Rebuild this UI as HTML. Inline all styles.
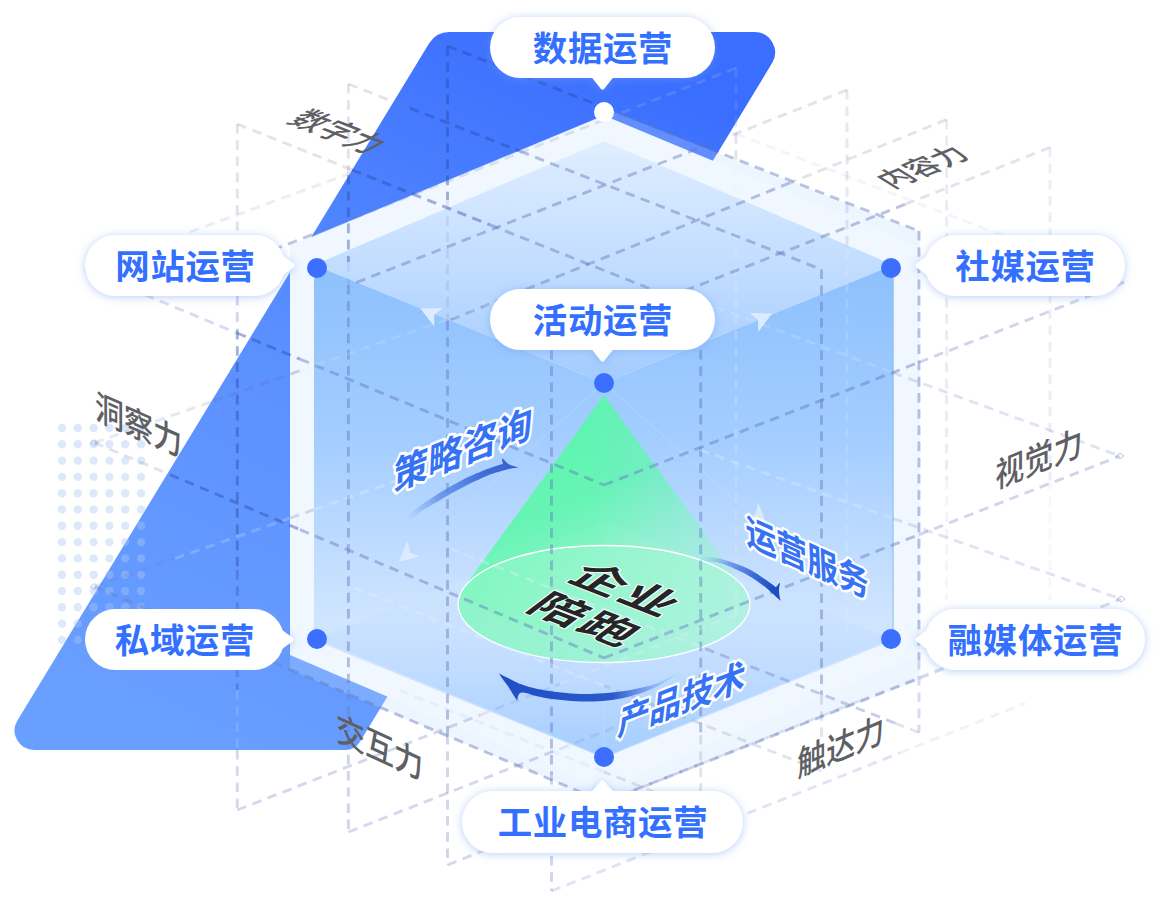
<!DOCTYPE html>
<html lang="zh-CN"><head><meta charset="utf-8"><title>企业陪跑</title>
<style>
html,body{margin:0;padding:0;background:#fff;}
body{width:1162px;height:906px;overflow:hidden;font-family:"Liberation Sans","Noto Sans CJK SC",sans-serif;}
svg{display:block}
text{font-family:"Liberation Sans","Noto Sans CJK SC",sans-serif;}
.pill{font-weight:700;font-size:34.4px;letter-spacing:0.7px;fill:#3370ff;text-anchor:middle;}
.gray{font-weight:500;font-size:35px;fill:#5f5f66;}
.blue{font-weight:700;font-size:34px;fill:#3572f5;stroke:#fff;stroke-width:4.8px;paint-order:stroke fill;stroke-linejoin:round;}
.ctr{font-weight:700;font-size:50px;letter-spacing:3px;fill:#252528;stroke:#fff;stroke-opacity:0.85;stroke-width:3px;paint-order:stroke fill;stroke-linejoin:round;}
</style></head><body>
<svg width="1162" height="906" viewBox="0 0 1162 906">
<defs>
<linearGradient id="gBig" gradientUnits="userSpaceOnUse" x1="560" y1="30" x2="200" y2="750">
<stop offset="0" stop-color="#3a6eff"/><stop offset="0.5" stop-color="#5a8fff"/><stop offset="1" stop-color="#699fff"/></linearGradient>
<linearGradient id="gTop" gradientUnits="userSpaceOnUse" x1="0" y1="141" x2="0" y2="383">
<stop offset="0" stop-color="#e0eeff"/><stop offset="0.6" stop-color="#bddaff"/><stop offset="1" stop-color="#a3cbff"/></linearGradient>
<linearGradient id="gSide" gradientUnits="userSpaceOnUse" x1="0" y1="265" x2="0" y2="758">
<stop offset="0" stop-color="#8dc0fd"/><stop offset="0.35" stop-color="#a3cdff"/><stop offset="0.72" stop-color="#d0e5ff"/><stop offset="1" stop-color="#c6dfff"/></linearGradient>
<linearGradient id="gFloor" gradientUnits="userSpaceOnUse" x1="0" y1="521" x2="0" y2="757">
<stop offset="0" stop-color="#d8e9ff" stop-opacity="0.5"/><stop offset="0.5" stop-color="#c6dfff" stop-opacity="0.75"/><stop offset="1" stop-color="#a4cdff" stop-opacity="1"/></linearGradient>
<linearGradient id="gCone" gradientUnits="userSpaceOnUse" x1="575" y1="400" x2="680" y2="650">
<stop offset="0" stop-color="#5af5ad"/><stop offset="0.35" stop-color="#64f5b2"/><stop offset="0.65" stop-color="#8af6c6" stop-opacity="0.92"/><stop offset="1" stop-color="#aef3dc" stop-opacity="0.8"/></linearGradient>
<linearGradient id="gEll" gradientUnits="userSpaceOnUse" x1="470" y1="570" x2="740" y2="640">
<stop offset="0" stop-color="#84f7c1"/><stop offset="1" stop-color="#acf4dd"/></linearGradient>
<linearGradient id="gA1" gradientUnits="userSpaceOnUse" x1="409" y1="517" x2="515" y2="464">
<stop offset="0" stop-color="#6f9cf0" stop-opacity="0.05"/><stop offset="0.3" stop-color="#5a88e8" stop-opacity="0.75"/><stop offset="0.7" stop-color="#4270d8"/><stop offset="1" stop-color="#365fcc"/></linearGradient>
<linearGradient id="gA2" gradientUnits="userSpaceOnUse" x1="703" y1="557" x2="781" y2="598">
<stop offset="0" stop-color="#8fb2f2" stop-opacity="0.1"/><stop offset="0.3" stop-color="#6a94ea" stop-opacity="0.9"/><stop offset="0.6" stop-color="#3d6cd8"/><stop offset="0.85" stop-color="#1f4fc4"/><stop offset="1" stop-color="#1c4abf"/></linearGradient>
<linearGradient id="gA3" gradientUnits="userSpaceOnUse" x1="682" y1="680" x2="500" y2="680">
<stop offset="0" stop-color="#9dbcf5" stop-opacity="0.1"/><stop offset="0.2" stop-color="#6f97ea" stop-opacity="0.85"/><stop offset="0.38" stop-color="#2a59cc"/><stop offset="1" stop-color="#1f4fc6"/></linearGradient>
<linearGradient id="gMask" gradientUnits="userSpaceOnUse" x1="590" y1="0" x2="752" y2="0">
<stop offset="0" stop-color="#fff"/><stop offset="1" stop-color="#777"/></linearGradient>
<mask id="mCone" maskUnits="userSpaceOnUse" x="440" y="380" width="330" height="300"><rect x="440" y="380" width="330" height="300" fill="url(#gMask)"/></mask>
<filter id="sh" x="-20%" y="-40%" width="140%" height="180%"><feDropShadow dx="0" dy="1" stdDeviation="4" flood-color="#6d9df0" flood-opacity="0.5"/></filter>
</defs>

<path d="M429.0,43.5 A24,24 0 0 1 449.5,32.0 L754.6,32.0 A20.5,20.5 0 0 1 772.1,63.1 L360.0,741.8 A17,17 0 0 1 345.4,750.0 L34.1,750.0 A19.5,19.5 0 0 1 17.4,720.4 Z" fill="url(#gBig)"/>
<g fill="#a9c8f5" fill-opacity="0.4"><circle cx="62.0" cy="428.0" r="4.2"/><circle cx="62.0" cy="444.3" r="4.2"/><circle cx="62.0" cy="460.6" r="4.2"/><circle cx="62.0" cy="476.9" r="4.2"/><circle cx="62.0" cy="493.2" r="4.2"/><circle cx="62.0" cy="509.5" r="4.2"/><circle cx="62.0" cy="525.8" r="4.2"/><circle cx="62.0" cy="542.1" r="4.2"/><circle cx="62.0" cy="558.4" r="4.2"/><circle cx="62.0" cy="574.7" r="4.2"/><circle cx="62.0" cy="591.0" r="4.2"/><circle cx="62.0" cy="607.3" r="4.2"/><circle cx="62.0" cy="623.6" r="4.2"/><circle cx="62.0" cy="639.9" r="4.2"/><circle cx="77.8" cy="428.0" r="4.2"/><circle cx="77.8" cy="444.3" r="4.2"/><circle cx="77.8" cy="460.6" r="4.2"/><circle cx="77.8" cy="476.9" r="4.2"/><circle cx="77.8" cy="493.2" r="4.2"/><circle cx="77.8" cy="509.5" r="4.2"/><circle cx="77.8" cy="525.8" r="4.2"/><circle cx="77.8" cy="542.1" r="4.2"/><circle cx="77.8" cy="558.4" r="4.2"/><circle cx="77.8" cy="574.7" r="4.2"/><circle cx="77.8" cy="591.0" r="4.2"/><circle cx="77.8" cy="607.3" r="4.2"/><circle cx="77.8" cy="623.6" r="4.2"/><circle cx="77.8" cy="639.9" r="4.2"/><circle cx="93.6" cy="428.0" r="4.2"/><circle cx="93.6" cy="444.3" r="4.2"/><circle cx="93.6" cy="460.6" r="4.2"/><circle cx="93.6" cy="476.9" r="4.2"/><circle cx="93.6" cy="493.2" r="4.2"/><circle cx="93.6" cy="509.5" r="4.2"/><circle cx="93.6" cy="525.8" r="4.2"/><circle cx="93.6" cy="542.1" r="4.2"/><circle cx="93.6" cy="558.4" r="4.2"/><circle cx="93.6" cy="574.7" r="4.2"/><circle cx="93.6" cy="591.0" r="4.2"/><circle cx="93.6" cy="607.3" r="4.2"/><circle cx="93.6" cy="623.6" r="4.2"/><circle cx="93.6" cy="639.9" r="4.2"/><circle cx="109.4" cy="428.0" r="4.2"/><circle cx="109.4" cy="444.3" r="4.2"/><circle cx="109.4" cy="460.6" r="4.2"/><circle cx="109.4" cy="476.9" r="4.2"/><circle cx="109.4" cy="493.2" r="4.2"/><circle cx="109.4" cy="509.5" r="4.2"/><circle cx="109.4" cy="525.8" r="4.2"/><circle cx="109.4" cy="542.1" r="4.2"/><circle cx="109.4" cy="558.4" r="4.2"/><circle cx="109.4" cy="574.7" r="4.2"/><circle cx="109.4" cy="591.0" r="4.2"/><circle cx="109.4" cy="607.3" r="4.2"/><circle cx="109.4" cy="623.6" r="4.2"/><circle cx="109.4" cy="639.9" r="4.2"/><circle cx="125.2" cy="428.0" r="4.2"/><circle cx="125.2" cy="444.3" r="4.2"/><circle cx="125.2" cy="460.6" r="4.2"/><circle cx="125.2" cy="476.9" r="4.2"/><circle cx="125.2" cy="493.2" r="4.2"/><circle cx="125.2" cy="509.5" r="4.2"/><circle cx="125.2" cy="525.8" r="4.2"/><circle cx="125.2" cy="542.1" r="4.2"/><circle cx="125.2" cy="558.4" r="4.2"/><circle cx="125.2" cy="574.7" r="4.2"/><circle cx="125.2" cy="591.0" r="4.2"/><circle cx="125.2" cy="607.3" r="4.2"/><circle cx="125.2" cy="623.6" r="4.2"/><circle cx="125.2" cy="639.9" r="4.2"/><circle cx="141.0" cy="428.0" r="4.2"/><circle cx="141.0" cy="444.3" r="4.2"/><circle cx="141.0" cy="460.6" r="4.2"/><circle cx="141.0" cy="476.9" r="4.2"/><circle cx="141.0" cy="493.2" r="4.2"/><circle cx="141.0" cy="509.5" r="4.2"/><circle cx="141.0" cy="525.8" r="4.2"/><circle cx="141.0" cy="542.1" r="4.2"/><circle cx="141.0" cy="558.4" r="4.2"/><circle cx="141.0" cy="574.7" r="4.2"/><circle cx="141.0" cy="591.0" r="4.2"/><circle cx="141.0" cy="607.3" r="4.2"/><circle cx="141.0" cy="623.6" r="4.2"/><circle cx="141.0" cy="639.9" r="4.2"/></g>
<polygon points="604,115 604,108 919.5,232 919.5,679.5 604,802 290,670 290,245" fill="#bedcff" fill-opacity="0.28"/>
<polygon points="604,115.5 917.5,246 917.5,655 604,789 290,655 290,246" fill="#f0f7ff"/>
<polygon points="604,141 893.5,265 604,383 314,265" fill="url(#gTop)"/>
<polygon points="314,265 604,383 604,758 314,640" fill="url(#gSide)"/>
<polygon points="893.5,265 604,383 604,758 893.5,640" fill="url(#gSide)"/>
<polygon points="317,639 604,521 891,639 604,757" fill="url(#gFloor)"/>
<g stroke="#c4deff" stroke-width="1" stroke-opacity="0.55" fill="none">
<line x1="604" y1="383" x2="317" y2="639"/>
<line x1="604" y1="383" x2="891" y2="639"/>
<line x1="604" y1="383" x2="604" y2="757"/>
</g>
<line x1="893" y1="265" x2="893" y2="640" stroke="#8fbdf5" stroke-width="1"/>
<polygon points="420.3,308.5 443.0,308.0 434.1,315.1 434.4,326.8" fill="#dcebff" fill-opacity="1"/>
<polygon points="772.1,313.4 749.8,313.1 758.1,320.0 758.1,332.0" fill="#dcebff" fill-opacity="1"/>
<polygon points="398.9,562.0 407.2,540.7 410.3,552.4 419.9,556.5" fill="#ddebff" fill-opacity="0.9"/>
<polygon points="766.5,524.0 758.2,502.7 755.1,514.4 745.5,518.5" fill="#ddebff" fill-opacity="0.9"/>
<path d="M604,395 L462,590 A146,58.5 0 0 0 746,590 Z" fill="url(#gCone)" fill-opacity="0.97" mask="url(#mCone)"/>
<ellipse cx="604" cy="604" rx="146" ry="58.5" fill="url(#gEll)" fill-opacity="0.85" stroke="#fff" stroke-width="1.3"/>
<g fill="none" stroke-width="2.9" stroke-dasharray="9.6 6.6"><line x1="237.3" y1="124.0" x2="237.3" y2="235.0" stroke="#7a8299" stroke-opacity="0.22"/><line x1="237.3" y1="296.0" x2="237.3" y2="330.0" stroke="#6273ba" stroke-opacity="0.3"/><line x1="237.3" y1="330.0" x2="237.3" y2="570.0" stroke="#2b47a0" stroke-opacity="0.42"/><line x1="237.3" y1="570.0" x2="237.3" y2="690.0" stroke="#2b47a0" stroke-opacity="0.3"/><line x1="237.3" y1="690.0" x2="237.3" y2="750.0" stroke="#9dbcff" stroke-opacity="0.35"/><line x1="237.3" y1="750.0" x2="237.3" y2="810.0" stroke="#6273ba" stroke-opacity="0.28"/><line x1="348.4" y1="84.0" x2="348.4" y2="175.0" stroke="#7a8299" stroke-opacity="0.22"/><line x1="348.4" y1="175.0" x2="348.4" y2="262.0" stroke="#2b47a0" stroke-opacity="0.4"/><line x1="348.4" y1="262.0" x2="348.4" y2="285.0" stroke="#6273ba" stroke-opacity="0.12"/><line x1="348.4" y1="285.0" x2="348.4" y2="690.0" stroke="#6273ba" stroke-opacity="0.43"/><line x1="348.4" y1="690.0" x2="348.4" y2="832.0" stroke="#6273ba" stroke-opacity="0.3"/><line x1="447.5" y1="46.0" x2="447.5" y2="200.0" stroke="#2b47a0" stroke-opacity="0.42"/><line x1="447.5" y1="200.0" x2="447.5" y2="321.0" stroke="#6273ba" stroke-opacity="0.15"/><line x1="447.5" y1="321.0" x2="447.5" y2="735.0" stroke="#6273ba" stroke-opacity="0.43"/><line x1="447.5" y1="735.0" x2="447.5" y2="865.0" stroke="#6273ba" stroke-opacity="0.3"/><line x1="551.5" y1="350.0" x2="551.5" y2="775.0" stroke="#6273ba" stroke-opacity="0.43"/><line x1="551.5" y1="775.0" x2="551.5" y2="891.0" stroke="#6273ba" stroke-opacity="0.3"/><line x1="700.7" y1="350.0" x2="700.7" y2="735.0" stroke="#6273ba" stroke-opacity="0.43"/><line x1="700.7" y1="735.0" x2="700.7" y2="810.0" stroke="#7a8299" stroke-opacity="0.22"/><line x1="821.5" y1="269.4" x2="821.5" y2="695.0" stroke="#6273ba" stroke-opacity="0.43"/><line x1="821.5" y1="695.0" x2="821.5" y2="745.0" stroke="#7a8299" stroke-opacity="0.22"/><line x1="919.0" y1="231.0" x2="919.0" y2="660.0" stroke="#6273ba" stroke-opacity="0.43"/><line x1="919.0" y1="660.0" x2="919.0" y2="732.5" stroke="#6273ba" stroke-opacity="0.25"/><line x1="736.0" y1="68.0" x2="736.0" y2="134.0" stroke="#8fa8f0" stroke-opacity="0.25"/><line x1="736.0" y1="134.0" x2="736.0" y2="250.0" stroke="#e4efff" stroke-opacity="0.18"/><line x1="736.0" y1="250.0" x2="736.0" y2="615.0" stroke="#e4efff" stroke-opacity="0.25"/><line x1="736.0" y1="134.0" x2="736.0" y2="160.0" stroke="#6273ba" stroke-opacity="0.18"/><line x1="847.0" y1="90.0" x2="847.0" y2="250.0" stroke="#6273ba" stroke-opacity="0.17"/><line x1="847.0" y1="250.0" x2="847.0" y2="636.0" stroke="#e4efff" stroke-opacity="0.2"/><line x1="946.6" y1="119.6" x2="946.6" y2="480.0" stroke="#6273ba" stroke-opacity="0.14"/><line x1="946.6" y1="480.0" x2="946.6" y2="600.0" stroke="#6273ba" stroke-opacity="0.07"/><line x1="1050.0" y1="147.5" x2="1050.0" y2="480.0" stroke="#6273ba" stroke-opacity="0.12"/><line x1="1050.0" y1="480.0" x2="1050.0" y2="600.0" stroke="#6273ba" stroke-opacity="0.06"/><line x1="237.3" y1="124.0" x2="352.0" y2="169.8" stroke="#7a8299" stroke-opacity="0.22"/><line x1="352.0" y1="169.8" x2="490.0" y2="224.9" stroke="#2b47a0" stroke-opacity="0.42"/><line x1="490.0" y1="224.9" x2="700.7" y2="309.0" stroke="#6273ba" stroke-opacity="0.43"/><line x1="348.4" y1="84.0" x2="410.0" y2="108.1" stroke="#7a8299" stroke-opacity="0.22"/><line x1="410.0" y1="108.1" x2="520.0" y2="151.2" stroke="#2b47a0" stroke-opacity="0.42"/><line x1="520.0" y1="151.2" x2="821.5" y2="269.4" stroke="#6273ba" stroke-opacity="0.43"/><line x1="447.5" y1="46.0" x2="604.0" y2="107.4" stroke="#2b47a0" stroke-opacity="0.42"/><line x1="604.0" y1="107.4" x2="919.0" y2="231.0" stroke="#6273ba" stroke-opacity="0.43"/><line x1="919.0" y1="732.5" x2="895.0" y2="723.1" stroke="#7a8299" stroke-opacity="0.22"/><line x1="895.0" y1="723.1" x2="700.0" y2="646.6" stroke="#6273ba" stroke-opacity="0.34400000000000003"/><line x1="700.0" y1="646.6" x2="447.5" y2="547.5" stroke="#e4efff" stroke-opacity="0.33"/><line x1="821.5" y1="771.0" x2="604.0" y2="685.7" stroke="#7a8299" stroke-opacity="0.22"/><line x1="604.0" y1="685.7" x2="348.4" y2="585.5" stroke="#e4efff" stroke-opacity="0.36"/><line x1="700.7" y1="810.5" x2="604.0" y2="771.9" stroke="#7a8299" stroke-opacity="0.22"/><line x1="604.0" y1="771.9" x2="400.0" y2="690.5" stroke="#6273ba" stroke-opacity="0.08"/><line x1="847.0" y1="90.0" x2="712.0" y2="143.0" stroke="#7a8299" stroke-opacity="0.22"/><line x1="712.0" y1="143.0" x2="350.3" y2="284.9" stroke="#6273ba" stroke-opacity="0.43"/><line x1="946.6" y1="119.6" x2="790.0" y2="182.8" stroke="#7a8299" stroke-opacity="0.22"/><line x1="790.0" y1="182.8" x2="447.5" y2="321.0" stroke="#6273ba" stroke-opacity="0.43"/><line x1="1050.0" y1="147.5" x2="905.0" y2="204.4" stroke="#7a8299" stroke-opacity="0.22"/><line x1="905.0" y1="204.4" x2="551.5" y2="343.0" stroke="#6273ba" stroke-opacity="0.43"/><line x1="736.0" y1="68.0" x2="604.0" y2="119.8" stroke="#8fa8f0" stroke-opacity="0.3"/><line x1="604.0" y1="119.8" x2="312.0" y2="234.6" stroke="#6273ba" stroke-opacity="0.18"/><line x1="312.0" y1="234.6" x2="237.3" y2="264.0" stroke="#6273ba" stroke-opacity="0.4"/><line x1="237.3" y1="810.0" x2="480.0" y2="715.1" stroke="#6273ba" stroke-opacity="0.28"/><line x1="480.0" y1="715.1" x2="560.0" y2="683.8" stroke="#6273ba" stroke-opacity="0.14"/><line x1="560.0" y1="683.8" x2="736.0" y2="615.0" stroke="#e4efff" stroke-opacity="0.26"/><line x1="348.4" y1="832.0" x2="560.0" y2="748.8" stroke="#6273ba" stroke-opacity="0.28"/><line x1="560.0" y1="748.8" x2="700.0" y2="693.8" stroke="#6273ba" stroke-opacity="0.14"/><line x1="447.5" y1="865.0" x2="700.0" y2="764.3" stroke="#6273ba" stroke-opacity="0.28"/><line x1="700.0" y1="764.3" x2="860.0" y2="700.5" stroke="#6273ba" stroke-opacity="0.16"/><line x1="860.0" y1="700.5" x2="946.6" y2="666.0" stroke="#6273ba" stroke-opacity="0.07"/><line x1="551.5" y1="891.0" x2="900.0" y2="752.9" stroke="#6273ba" stroke-opacity="0.2"/><line x1="900.0" y1="752.9" x2="1025.0" y2="703.4" stroke="#6273ba" stroke-opacity="0.09"/><line x1="85.0" y1="270.0" x2="237.0" y2="333.0" stroke="#6273ba" stroke-opacity="0.25"/><line x1="237.0" y1="333.0" x2="300.0" y2="359.1" stroke="#2b47a0" stroke-opacity="0.42"/><line x1="300.0" y1="359.1" x2="604.0" y2="485.0" stroke="#6273ba" stroke-opacity="0.43"/><line x1="604.0" y1="485.0" x2="919.0" y2="362.3" stroke="#6273ba" stroke-opacity="0.43"/><line x1="919.0" y1="362.3" x2="1125.0" y2="282.0" stroke="#6273ba" stroke-opacity="0.3"/><line x1="190.0" y1="232.0" x2="348.4" y2="174.0" stroke="#6273ba" stroke-opacity="0.13"/><line x1="736.0" y1="134.0" x2="1125.0" y2="282.0" stroke="#6273ba" stroke-opacity="0.07"/><line x1="94.4" y1="442.7" x2="170.0" y2="474.6" stroke="#7a8299" stroke-opacity="0.22"/><line x1="170.0" y1="474.6" x2="300.0" y2="529.6" stroke="#2b47a0" stroke-opacity="0.42"/><line x1="300.0" y1="529.6" x2="604.0" y2="658.0" stroke="#6273ba" stroke-opacity="0.43"/><line x1="604.0" y1="658.0" x2="919.0" y2="534.7" stroke="#6273ba" stroke-opacity="0.43"/><line x1="919.0" y1="534.7" x2="1120.0" y2="456.0" stroke="#6273ba" stroke-opacity="0.3"/><line x1="94.4" y1="442.7" x2="214.0" y2="400.9" stroke="#6273ba" stroke-opacity="0.17"/><line x1="214.0" y1="400.9" x2="300.0" y2="370.8" stroke="#6273ba" stroke-opacity="0.3"/><line x1="300.0" y1="370.8" x2="520.0" y2="294.0" stroke="#e4efff" stroke-opacity="0.18"/><line x1="715.0" y1="307.0" x2="893.0" y2="372.7" stroke="#e4efff" stroke-opacity="0.2"/><line x1="893.0" y1="372.7" x2="1120.0" y2="456.0" stroke="#6273ba" stroke-opacity="0.2"/><line x1="94.4" y1="586.6" x2="290.0" y2="669.3" stroke="#6273ba" stroke-opacity="0.3"/><line x1="290.0" y1="669.3" x2="604.0" y2="802.0" stroke="#6273ba" stroke-opacity="0.43"/><line x1="604.0" y1="802.0" x2="919.5" y2="678.1" stroke="#6273ba" stroke-opacity="0.43"/><line x1="919.5" y1="678.1" x2="1121.0" y2="599.0" stroke="#6273ba" stroke-opacity="0.26"/><line x1="94.4" y1="586.6" x2="175.0" y2="558.4" stroke="#6273ba" stroke-opacity="0.15"/><line x1="175.0" y1="558.4" x2="290.0" y2="518.1" stroke="#a9c4ff" stroke-opacity="0.45"/><line x1="290.0" y1="518.1" x2="314.0" y2="509.7" stroke="#6273ba" stroke-opacity="0.25"/><line x1="314.0" y1="509.7" x2="470.0" y2="455.0" stroke="#e4efff" stroke-opacity="0.33"/><line x1="700.0" y1="450.0" x2="893.0" y2="518.5" stroke="#e4efff" stroke-opacity="0.33"/><line x1="893.0" y1="518.5" x2="1121.0" y2="599.0" stroke="#6273ba" stroke-opacity="0.2"/></g>
<path d="M90.4,442.7 L94.4,439.7 L98.4,442.7 L94.4,445.7 Z" fill="none" stroke="#8aa6d8" stroke-opacity="0.6" stroke-width="1"/>
<path d="M90.4,586.6 L94.4,583.6 L98.4,586.6 L94.4,589.6 Z" fill="none" stroke="#8aa6d8" stroke-opacity="0.6" stroke-width="1"/>
<path d="M1116,456 L1120,453 L1124,456 L1120,459 Z" fill="none" stroke="#8aa6d8" stroke-opacity="0.6" stroke-width="1"/>
<path d="M1117,599 L1121,596 L1125,599 L1121,602 Z" fill="none" stroke="#8aa6d8" stroke-opacity="0.6" stroke-width="1"/>
<path d="M407.0,516.0 L408.1,515.1 L409.6,513.9 L411.3,512.6 L413.3,511.0 L415.4,509.3 L417.7,507.6 L420.0,505.9 L422.4,504.2 L424.9,502.5 L427.5,500.7 L430.3,498.9 L433.1,497.0 L436.0,495.2 L439.0,493.3 L441.9,491.5 L444.7,489.8 L447.5,488.2 L450.3,486.5 L453.1,484.9 L455.9,483.4 L458.7,481.9 L461.5,480.4 L464.3,479.0 L467.1,477.6 L470.0,476.3 L472.9,474.9 L475.9,473.6 L478.9,472.4 L481.8,471.2 L484.5,470.1 L487.1,469.1 L489.5,468.2 L491.7,467.4 L493.8,466.7 L495.8,466.1 L497.6,465.5 L499.3,465.0 L500.7,464.6 L501.9,464.3 L502.9,464.0 L502.8,463.5 L502.7,462.8 L502.5,461.9 L502.3,460.9 L502.1,460.0 L502.1,459.2 L502.1,458.6 L502.3,458.4 L502.7,458.5 L503.2,458.9 L503.8,459.5 L504.5,460.3 L505.2,461.1 L506.0,461.9 L506.7,462.6 L507.4,463.2 L508.0,463.6 L508.6,464.0 L509.3,464.4 L509.9,464.7 L510.5,465.0 L511.1,465.3 L511.8,465.5 L512.5,465.8 L513.3,466.1 L514.1,466.3 L515.1,466.5 L516.0,466.7 L516.8,466.9 L517.6,467.1 L518.3,467.2 L518.8,467.3 L518.1,467.4 L517.2,467.5 L516.2,467.7 L515.0,467.9 L513.7,468.1 L512.4,468.3 L511.2,468.6 L510.0,468.8 L508.9,469.0 L507.8,469.3 L506.6,469.6 L505.5,469.9 L504.3,470.2 L503.2,470.5 L502.0,470.8 L500.7,471.2 L499.5,471.5 L498.3,471.9 L497.1,472.2 L495.9,472.5 L494.6,472.9 L493.1,473.4 L491.4,474.0 L489.5,474.8 L487.2,475.7 L484.7,476.8 L481.9,478.0 L479.0,479.4 L476.0,480.7 L473.0,482.1 L470.0,483.6 L467.1,485.0 L464.3,486.4 L461.5,487.9 L458.7,489.4 L455.9,491.0 L453.1,492.5 L450.3,494.1 L447.5,495.7 L444.7,497.3 L441.8,498.9 L438.9,500.7 L435.9,502.4 L432.9,504.2 L430.0,505.9 L427.3,507.6 L424.7,509.1 L422.4,510.6 L420.3,512.0 L418.4,513.4 L416.6,514.8 L415.0,516.1 L413.5,517.3 L412.2,518.2 L411.0,519.0 L410.0,519.5 L409.2,519.6 L408.5,519.4 L408.1,518.9 L407.7,518.3 L407.5,517.6 L407.3,516.9 L407.2,516.4 L407.0,516.0 Z" fill="url(#gA1)"/>
<path d="M702.0,556.5 L703.4,556.6 L705.2,556.8 L707.4,556.9 L709.8,557.1 L712.4,557.4 L715.2,557.8 L718.0,558.3 L720.8,558.9 L723.7,559.7 L727.0,560.7 L730.3,561.8 L733.8,563.0 L737.2,564.2 L740.6,565.5 L743.7,566.8 L746.6,568.0 L749.2,569.2 L751.6,570.5 L753.9,571.9 L756.1,573.2 L758.1,574.6 L760.1,575.9 L762.0,577.2 L763.8,578.4 L765.6,579.6 L767.5,580.9 L769.2,582.2 L770.9,583.5 L772.5,584.6 L773.8,585.7 L775.0,586.5 L775.9,587.2 L776.2,586.8 L776.7,586.2 L777.3,585.4 L777.9,584.7 L778.5,583.9 L779.1,583.3 L779.5,583.0 L779.8,582.9 L779.9,583.2 L779.9,583.7 L779.8,584.4 L779.6,585.3 L779.4,586.3 L779.2,587.2 L779.1,588.2 L779.0,589.0 L779.0,589.8 L779.0,590.5 L779.0,591.3 L779.1,592.0 L779.1,592.8 L779.2,593.5 L779.3,594.3 L779.4,595.0 L779.5,595.8 L779.7,596.6 L779.8,597.5 L780.0,598.3 L780.2,599.1 L780.4,599.8 L780.5,600.4 L780.6,600.9 L780.0,600.3 L779.2,599.6 L778.2,598.7 L777.1,597.7 L775.9,596.7 L774.8,595.6 L773.6,594.6 L772.5,593.6 L771.5,592.7 L770.6,591.8 L769.7,590.9 L768.7,590.1 L767.7,589.1 L766.6,588.2 L765.3,587.1 L763.8,586.0 L762.1,584.8 L760.3,583.4 L758.3,582.0 L756.3,580.5 L754.0,579.0 L751.7,577.5 L749.2,576.1 L746.6,574.6 L743.8,573.1 L740.6,571.5 L737.3,569.9 L733.9,568.4 L730.5,566.8 L727.1,565.4 L723.9,564.2 L721.0,563.2 L718.2,562.5 L715.3,561.9 L712.6,561.6 L709.9,561.4 L707.4,561.2 L705.3,561.1 L703.4,560.8 L702.0,560.5 L701.1,560.0 L700.7,559.5 L700.6,558.9 L700.8,558.3 L701.2,557.8 L701.6,557.2 L701.9,556.8 L702.0,556.5 Z" fill="url(#gA2)"/>
<path d="M679.8,672.2 L677.8,673.2 L675.1,674.6 L672.0,676.2 L668.5,678.0 L664.7,679.9 L660.8,681.7 L656.7,683.4 L652.7,684.8 L648.6,686.0 L644.3,687.1 L639.8,688.1 L635.2,689.1 L630.5,689.9 L625.8,690.7 L621.1,691.4 L616.5,692.0 L612.0,692.5 L607.5,693.0 L603.0,693.3 L598.5,693.6 L593.9,693.8 L589.4,693.9 L584.9,694.0 L580.4,693.9 L575.8,693.7 L571.0,693.4 L566.2,693.0 L561.4,692.5 L556.7,692.0 L552.2,691.4 L548.0,690.8 L544.2,690.2 L540.7,689.6 L537.5,689.0 L534.6,688.3 L531.9,687.6 L529.3,686.9 L526.9,686.2 L524.7,685.5 L522.5,684.8 L520.5,684.1 L518.7,683.4 L517.1,682.6 L515.6,681.9 L514.2,681.2 L512.8,680.4 L511.4,679.7 L510.0,679.0 L508.5,678.3 L506.9,677.5 L505.3,676.7 L503.7,675.9 L502.3,675.2 L500.9,674.6 L499.8,674.0 L499.0,673.6 L499.4,674.2 L499.9,675.0 L500.5,675.9 L501.2,676.9 L501.9,678.0 L502.7,679.1 L503.4,680.1 L504.0,681.0 L504.6,681.8 L505.2,682.6 L505.7,683.3 L506.3,684.1 L506.9,684.8 L507.4,685.5 L508.0,686.2 L508.5,687.0 L509.0,687.8 L509.5,688.6 L510.0,689.4 L510.5,690.2 L511.0,691.0 L511.5,691.8 L512.0,692.7 L512.5,693.5 L513.1,694.4 L513.7,695.4 L514.4,696.4 L515.0,697.4 L515.7,698.4 L516.3,699.2 L516.7,700.0 L517.1,700.8 L517.3,700.1 L517.5,699.0 L517.7,697.7 L517.9,696.4 L518.4,695.1 L519.1,693.9 L520.1,693.0 L521.6,692.6 L523.5,692.6 L525.7,693.0 L528.2,693.6 L530.9,694.5 L533.9,695.4 L537.2,696.3 L540.6,697.1 L544.2,697.8 L548.1,698.4 L552.3,699.0 L556.8,699.6 L561.5,700.1 L566.2,700.6 L571.0,701.0 L575.8,701.3 L580.4,701.5 L584.9,701.6 L589.4,701.6 L593.9,701.5 L598.4,701.3 L603.0,701.0 L607.5,700.6 L612.0,700.0 L616.5,699.3 L621.1,698.4 L625.8,697.4 L630.5,696.2 L635.2,694.8 L639.8,693.4 L644.3,691.9 L648.6,690.3 L652.7,688.6 L656.7,686.7 L660.8,684.5 L664.7,682.1 L668.5,679.7 L672.0,677.4 L675.1,675.3 L677.8,673.5 L679.8,672.2 Z" fill="url(#gA3)"/>
<text class="blue" transform="matrix(1.0200,-0.4020,-0.0500,1.1500,393.0,491.0)" >策略咨询</text>
<text class="blue" transform="matrix(0.9050,0.4070,0.0500,1.0700,746.3,543.3)" >运营服务</text>
<text class="blue" transform="matrix(0.9360,-0.3520,-0.1200,1.0850,616.7,736.5)" >产品技术</text>
<text class="ctr" transform="matrix(0.9310,0.3650,-0.6550,0.4950,565.5,579.6)" >企业</text>
<text class="ctr" transform="matrix(0.9310,0.3650,-0.6550,0.4950,524.8,609.4)" >陪跑</text>
<text class="gray" transform="matrix(0.9500,0.3700,-1.0400,0.6200,286.0,122.0)" style="font-size:29px">数字力</text>
<text class="gray" transform="matrix(0.9100,-0.3700,0.9300,0.5700,892.5,189.0)" style="font-size:29px">内容力</text>
<text class="gray" transform="matrix(0.8300,0.3652,0.0000,1.0000,95.0,418.6)" >洞察力</text>
<text class="gray" transform="matrix(0.8300,-0.3362,0.0000,1.0000,995.3,489.0)" >视觉力</text>
<text class="gray" transform="matrix(0.8300,0.3818,0.0000,1.0000,336.0,740.0)" >交互力</text>
<text class="gray" transform="matrix(0.8300,-0.3486,0.0000,1.0000,797.3,777.5)" >触达力</text>
<circle cx="317" cy="268" r="10" fill="#3b6fff"/>
<circle cx="891" cy="268" r="10" fill="#3b6fff"/>
<circle cx="317" cy="639" r="10" fill="#3b6fff"/>
<circle cx="891" cy="639" r="10" fill="#3b6fff"/>
<circle cx="604" cy="757" r="10" fill="#3b6fff"/>
<circle cx="604" cy="383" r="10" fill="#3b6fff"/>
<circle cx="604" cy="112" r="10" fill="#fff"/>
<g filter="url(#sh)"><path d="M520.5,17 L684.5,17 A30.5,30.5 0 0 1 684.5,78 L520.5,78 A30.5,30.5 0 0 1 520.5,17 Z" fill="#fff"/><path d="M591.5,77 L613.5,77 L604.0,89 Q602.5,90.5 601.0,89 Z" fill="#fff"/></g>
<text class="pill" x="603.0" y="60.5">数据运营</text>
<g filter="url(#sh)"><path d="M520.5,289 L684.5,289 A30.5,30.5 0 0 1 684.5,350 L520.5,350 A30.5,30.5 0 0 1 520.5,289 Z" fill="#fff"/><path d="M591.5,349 L613.5,349 L604.0,361 Q602.5,362.5 601.0,361 Z" fill="#fff"/></g>
<text class="pill" x="603.0" y="332.5">活动运营</text>
<g filter="url(#sh)"><path d="M115.5,235 L254.5,235 A30.5,30.5 0 0 1 254.5,296 L115.5,296 A30.5,30.5 0 0 1 115.5,235 Z" fill="#fff"/><path d="M281,254.5 L281,276.5 L294,267.0 Q295.5,265.5 294,264.0 Z" fill="#fff"/></g>
<text class="pill" x="185.5" y="278.5">网站运营</text>
<g filter="url(#sh)"><path d="M955.5,235 L1094.5,235 A30.5,30.5 0 0 1 1094.5,296 L955.5,296 A30.5,30.5 0 0 1 955.5,235 Z" fill="#fff"/><path d="M929,254.5 L929,276.5 L916,267.0 Q914.5,265.5 916,264.0 Z" fill="#fff"/></g>
<text class="pill" x="1025.5" y="278.5">社媒运营</text>
<g filter="url(#sh)"><path d="M115.5,609 L253.5,609 A30.5,30.5 0 0 1 253.5,670 L115.5,670 A30.5,30.5 0 0 1 115.5,609 Z" fill="#fff"/><path d="M280,628.5 L280,650.5 L293,641.0 Q294.5,639.5 293,638.0 Z" fill="#fff"/></g>
<text class="pill" x="185.0" y="652.5">私域运营</text>
<g filter="url(#sh)"><path d="M955.5,609 L1114.5,609 A30.5,30.5 0 0 1 1114.5,670 L955.5,670 A30.5,30.5 0 0 1 955.5,609 Z" fill="#fff"/><path d="M929,628.5 L929,650.5 L916,641.0 Q914.5,639.5 916,638.0 Z" fill="#fff"/></g>
<text class="pill" x="1035.5" y="652.5">融媒体运营</text>
<g filter="url(#sh)"><path d="M493.0,791 L712.0,791 A31.0,31.0 0 0 1 712.0,853 L493.0,853 A31.0,31.0 0 0 1 493.0,791 Z" fill="#fff"/><path d="M591.5,792 L613.5,792 L604.0,781 Q602.5,779.5 601.0,781 Z" fill="#fff"/></g>
<text class="pill" x="603.0" y="835.0">工业电商运营</text>
</svg></body></html>
